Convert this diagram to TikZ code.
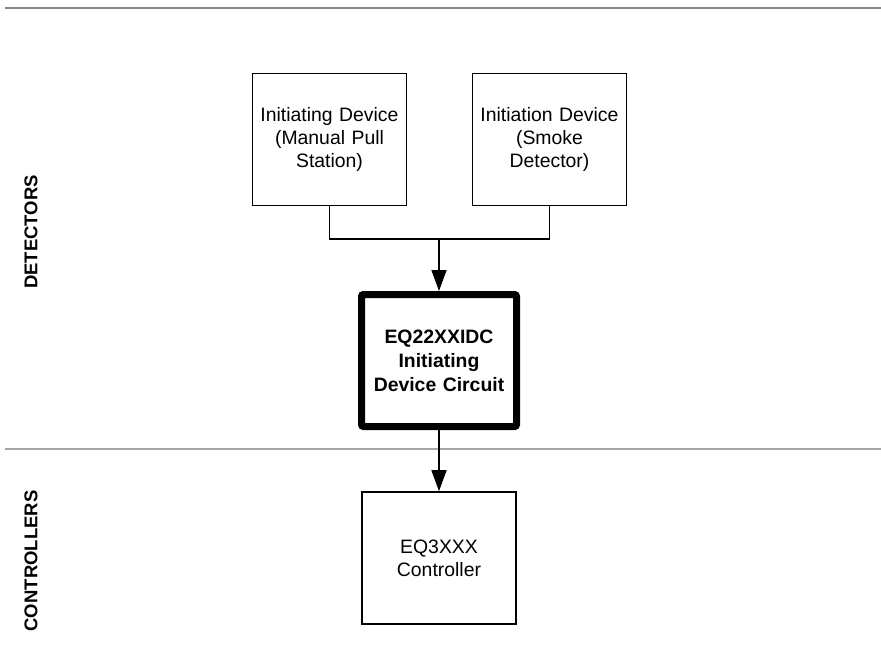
\documentclass[tikz,border=0pt]{standalone}
\usepackage{fontspec}
\setmainfont{Liberation Sans}
\usetikzlibrary{arrows.meta}
\begin{document}
\begin{tikzpicture}[x=1pt,y=-1pt,
  box/.style={draw, line width=1.6pt, minimum width=154pt, minimum height=132pt, align=center, text width=150pt,
    font=\fontsize{19.4}{23}\selectfont, inner sep=0pt},
  bigbox/.style={box, line width=7pt, rounded corners=2pt, minimum width=155pt, minimum height=132pt, font=\fontsize{19.4}{24}\selectfont\bfseries},
  conn/.style={line width=1.4pt},
  tip/.style={-{Triangle[length=21pt,width=15pt]}},
  sep/.style={line width=2pt, color=black!48},
  side/.style={rotate=90, font=\fontsize{18.5}{22}\selectfont\bfseries}]
\useasboundingbox (0,0) rectangle (881,667);
\coordinate (t1) at (5,7.5);
\coordinate (t2) at (881,7.5);
\coordinate (m1) at (5,449);
\coordinate (m2) at (881,449);
\draw[sep] (t1) -- (t2);
\draw[sep, color=black!35] (m1) -- (m2);
\node[side] (det) at (31,232) {DETECTORS};
\node[side] (ctl) at (31,561) {CONTROLLERS};
\node[box] (b1) at (329.5,139.5) {Initiating Device\\(Manual Pull\\Station)};
\node[box] (b2) at (549.5,139.5) {Initiation Device\\(Smoke\\Detector)};
\node[bigbox] (b3) at (439,360.5) {EQ22XXIDC\\Initiating\\Device Circuit};
\node[box] (b4) at (439,558) {EQ3XXX\\Controller};
\coordinate (j) at (439,239);
\draw[conn] (b1.south) |- (j) -| (b2.south);
\draw[conn,tip] (j) -- (b3.north);
\draw[conn,tip] (b3.south) -- (b4.north);
\end{tikzpicture}
\end{document}
